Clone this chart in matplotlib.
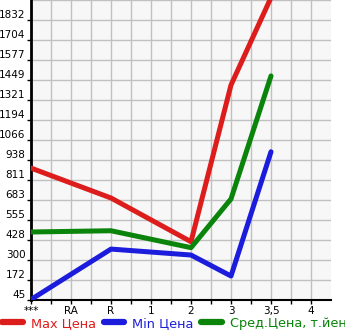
import matplotlib.pyplot as plt
from matplotlib.lines import Line2D
import numpy as np

categories = ['***', 'RA', 'R', '1', '2', '3', '3,5', '4']
y_ticks = [45, 172, 300, 428, 555, 683, 811, 938, 1066, 1194, 1321, 1449, 1577, 1704, 1832]

max_price = [887, None, 696, None, 417, 1417, 1975]
min_price = [48, None, 370, None, 332, 198, 991]
avg_price = [479, None, 487, None, 379, 690, 1475]

RED = '#dd1c1c'
BLUE = '#1c1cdd'
GREEN = '#0a840a'


def series_xy(vals):
    xs = [i for i, v in enumerate(vals) if v is not None]
    ys = [v for v in vals if v is not None]
    return xs, ys


fig = plt.figure(figsize=(3.45, 3.35), dpi=100)
ax = fig.add_axes([31 / 345, 35 / 335, 300 / 345, 300 / 335])
ax.set_facecolor('#f7f7f7')

step = (1832 - 45) / 14
ax.set_xlim(0, 7.5)
ax.set_ylim(45, 1832 + step)

for vals, col in ((max_price, RED), (min_price, BLUE), (avg_price, GREEN)):
    xs, ys = series_xy(vals)
    ax.plot(xs, ys, color=col, lw=3.6, solid_capstyle='round',
            solid_joinstyle='round', zorder=3)

ax.set_xticks(range(len(categories)))
ax.set_xticklabels(categories)
ax.set_xticks(np.arange(0.5, 7.5, 0.5), minor=True)
ax.set_yticks([45 + step * k for k in range(15)])
ax.set_yticklabels([str(v) for v in y_ticks], va='bottom')
ax.set_yticks([45 + step * 14.999], minor=True)

ax.grid(True, which='both', color='#c0c0c0', lw=1)
ax.set_axisbelow(True)
ax.tick_params(axis='both', which='both', labelsize=7.5, length=3, width=1,
               color='black', pad=1)
ax.tick_params(axis='y', which='minor', length=0)

for s in ('top', 'right'):
    ax.spines[s].set_visible(False)
ax.spines['left'].set_linewidth(2)
ax.spines['bottom'].set_linewidth(1.5)

handles = [Line2D([], [], color=c, lw=4.5, solid_capstyle='round') for c in (RED, BLUE, GREEN)]
leg = fig.legend(handles, ['Max Цена', 'Min Цена', 'Сред.Цена, т.йен'],
                 loc='lower left', bbox_to_anchor=(-0.008, 0.0), ncol=3,
                 frameon=False, fontsize=9.3, handlelength=1.6,
                 handletextpad=0.6, columnspacing=0.6, borderaxespad=0)
for txt, c in zip(leg.get_texts(), (RED, BLUE, GREEN)):
    txt.set_color(c)

fig.savefig('out.png', dpi=100)
